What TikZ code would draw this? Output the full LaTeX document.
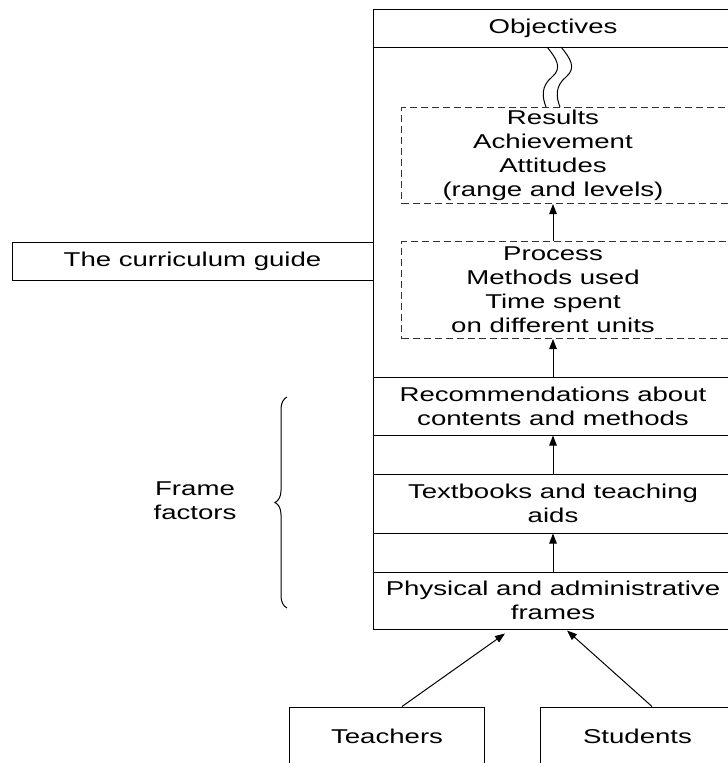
\documentclass[tikz,border=0pt]{standalone}
\usepackage{fontspec}
\setmainfont{Liberation Sans}[FakeStretch=1.38]
\usetikzlibrary{arrows.meta,decorations.pathreplacing}
\begin{document}
\begin{tikzpicture}[x=1pt,y=-1pt,
  every node/.style={font=\fontsize{20}{24}\selectfont, align=center, inner sep=0pt},
  ln/.style={line width=1pt},
  box/.style={draw, ln, minimum width=360},
  dbox/.style={draw=black!80, line width=1pt, dash pattern=on 7pt off 4pt},
  arr/.style={line width=1pt, -{Triangle[length=10pt,width=7.5pt]}}]
\useasboundingbox (0,0) rectangle (728,763);
\begin{scope}
\clip (0,0) rectangle (728,763);
\node[draw, ln, minimum width=360, minimum height=620, anchor=north west] (frame) at (373,9) {};
\node[box, minimum height=38] (obj) at (553,28) {Objectives};
\node[dbox, minimum width=339, minimum height=96, anchor=north west] (resbox) at (401,107) {};
\node (res) at (553,155) {Results\\Achievement\\Attitudes\\(range and levels)};
\node[dbox, minimum width=339, minimum height=97, anchor=north west] (procbox) at (401,241) {};
\node (proc) at (553,289.5) {Process\\Methods used\\Time spent\\on different units};
\node[box, minimum height=58] (rec) at (553,406) {Recommendations about\\contents and methods};
\node[box, minimum height=59] (tbk) at (553,503.5) {Textbooks and teaching\\aids};
\node[box, minimum height=57] (phys) at (553,600.5) {Physical and administrative\\frames};
\node[draw, ln, minimum width=361, minimum height=38] (guide) at (192.5,261) {The curriculum guide};
\node[draw, ln, minimum width=195, minimum height=58] (teach) at (387,736) {Teachers};
\node[draw, ln, minimum width=195, minimum height=58] (stud) at (637.5,736) {Students};
\node (ff) at (195,501) {Frame\\factors};
% wavy double line
\draw[ln] (547,47) .. controls (556,58) and (563,68) .. (552,77) .. controls (541,86) and (542,97) .. (546,107);
\draw[ln] (561,47) .. controls (570,58) and (577,68) .. (566,77) .. controls (555,86) and (556,97) .. (560,107);
% arrows
\draw[arr] (procbox.north -| res) -- (resbox.south -| res);
\draw[arr] (rec.north) -- (procbox.south -| rec);
\draw[arr] (tbk.north) -- (rec.south);
\draw[arr] (phys.north) -- (tbk.south);
\coordinate (tA) at ([shift={(-48,4)}]phys.south);
\coordinate (sA) at ([shift={(14,1)}]phys.south);
\draw[arr] ([xshift=15pt]teach.north) -- (tA);
\draw[arr] ([xshift=14.5pt]stud.north) -- (sA);
% brace
\draw[ln, decorate, decoration={brace, amplitude=12pt}] (287,608) -- (287,397);
\end{scope}
\end{tikzpicture}
\end{document}
